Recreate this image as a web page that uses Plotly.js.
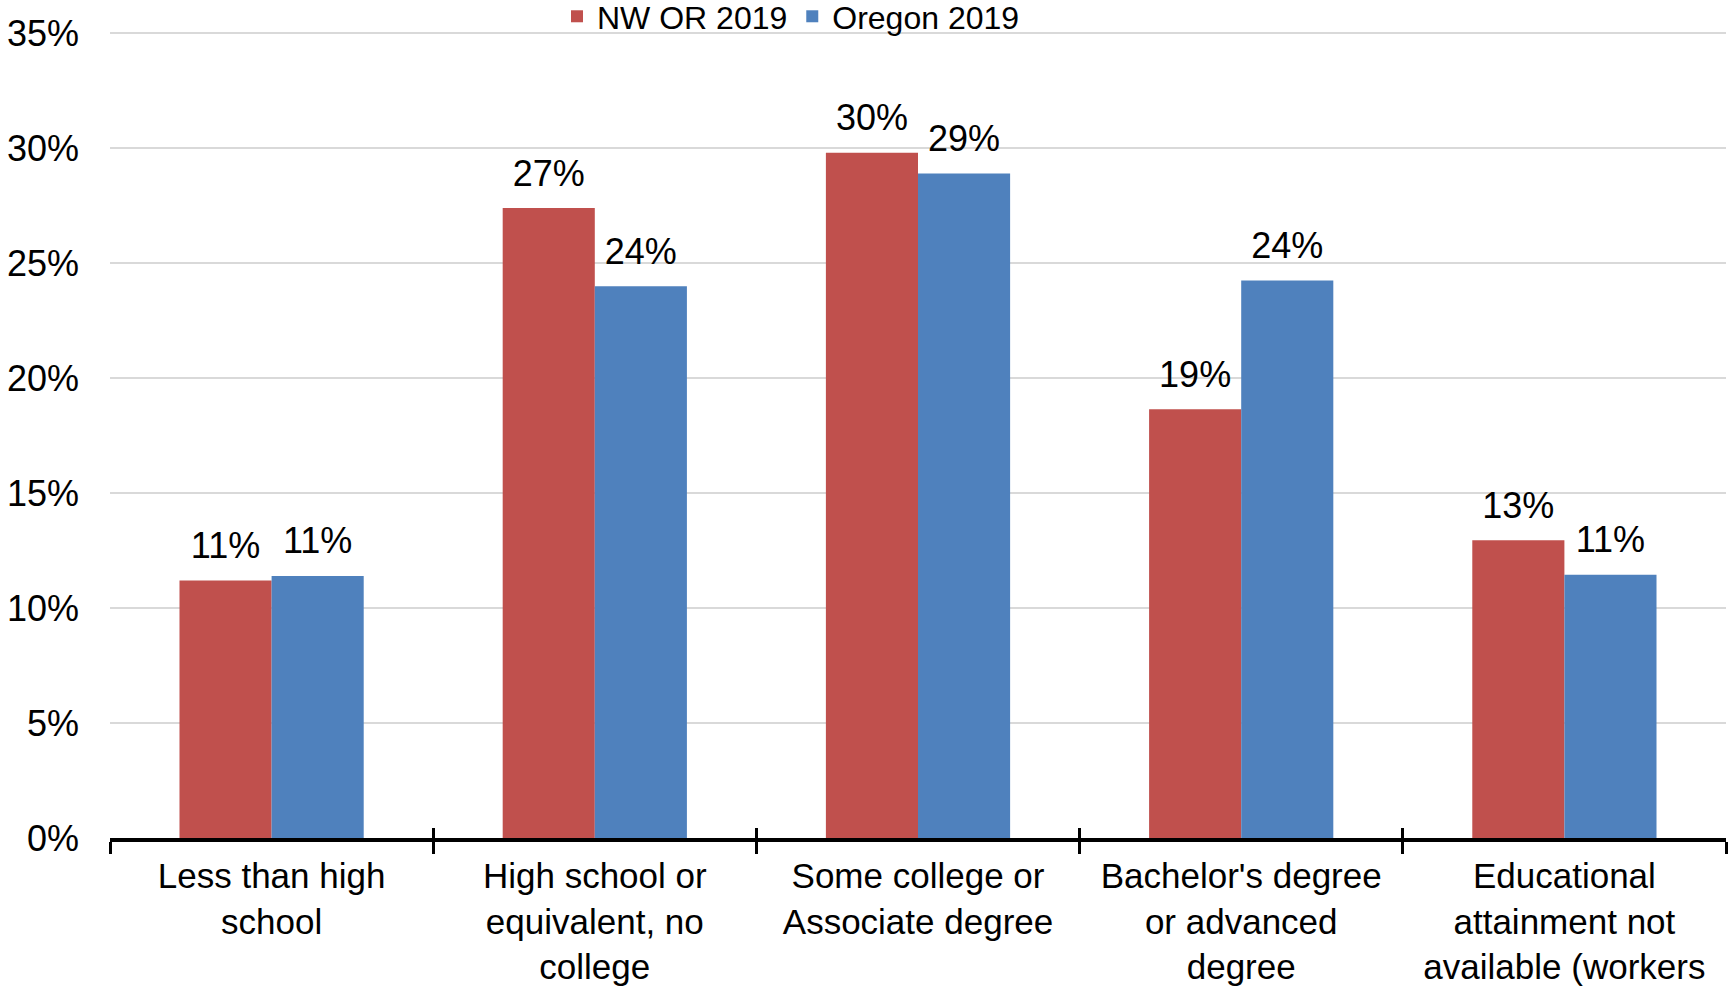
<!DOCTYPE html>
<html>
<head>
<meta charset="utf-8">
<script src="https://cdn.plot.ly/plotly-3.0.1.min.js"></script>
<style>
  html, body { margin: 0; padding: 0; background: #ffffff; }
  #chart { width: 1729px; height: 987px; }
</style>
</head>
<body>
<div id="chart"></div>
<script>
const categories = [
  "Less than high<br>school",
  "High school or<br>equivalent, no<br>college",
  "Some college or<br>Associate degree",
  "Bachelor's degree<br>or advanced<br>degree",
  "Educational<br>attainment not<br>available (workers"
];
const seriesNames = ["NW OR 2019", "Oregon 2019"];
const nwOr2019 = [11.2, 27.4, 29.8, 18.65, 12.95];
const oregon2019 = [11.4, 24.0, 28.9, 24.25, 11.45];
const yTickValues = [0, 5, 10, 15, 20, 25, 30, 35];

const FONT = "Liberation Sans, Arial, Helvetica, sans-serif";
const RED = "#C0504D";
const BLUE = "#4F81BD";

function barTrace(name, values, color) {
  return {
    type: "bar",
    name: name,
    x: categories,
    y: values,
    marker: { color: color, line: { width: 0 } },
    hoverinfo: "x+y"
  };
}

function labelTrace(name, values) {
  return {
    type: "scatter",
    name: name + " labels",
    x: categories,
    y: values,
    mode: "markers+text",
    marker: { size: 20, opacity: 0 },
    text: values.map(v => Math.round(v) + "%"),
    textposition: "top center",
    textfont: { family: FONT, size: 36, color: "#000000" },
    cliponaxis: false,
    showlegend: false,
    hoverinfo: "skip"
  };
}

const traces = [
  barTrace(seriesNames[0], nwOr2019, RED),
  barTrace(seriesNames[1], oregon2019, BLUE),
  labelTrace(seriesNames[0], nwOr2019),
  labelTrace(seriesNames[1], oregon2019)
];

const n = categories.length;
const boundaries = Array.from({ length: n + 1 }, (_, i) => i - 0.5);

const layout = {
  width: 1729,
  height: 987,
  paper_bgcolor: "#ffffff",
  plot_bgcolor: "#ffffff",
  margin: { l: 110, r: 3, t: 31, b: 149, pad: 0, autoexpand: false },
  barmode: "group",
  bargap: 0.43,
  bargroupgap: 0,
  scattermode: "group",
  scattergap: 0.43,
  font: { family: FONT, size: 36, color: "#000000" },
  showlegend: true,
  legend: {
    orientation: "h",
    x: 0.2766,
    xanchor: "left",
    y: 1.018,
    yanchor: "middle",
    font: { family: FONT, size: 32, color: "#000000" },
    bgcolor: "rgba(0,0,0,0)",
    itemclick: false,
    itemdoubleclick: false
  },
  xaxis: {
    type: "category",
    range: [-0.5, n - 0.5],
    tickson: "boundaries",
    ticks: "outside",
    ticklen: 12,
    tickwidth: 3,
    tickcolor: "#000000",
    showline: true,
    linecolor: "#000000",
    linewidth: 4,
    showgrid: false,
    zeroline: false,
    tickfont: { family: FONT, size: 35, color: "#000000" },
    ticklabelstandoff: 4,
    automargin: false,
    fixedrange: true
  },
  xaxis2: {
    overlaying: "x",
    anchor: "y",
    side: "bottom",
    type: "linear",
    range: [-0.5, n - 0.5],
    tickmode: "array",
    tickvals: boundaries,
    ticks: "inside",
    ticklen: 10,
    tickwidth: 3,
    tickcolor: "#000000",
    showticklabels: false,
    showline: false,
    showgrid: false,
    zeroline: false,
    fixedrange: true
  },
  yaxis: {
    range: [0, 35.1],
    tickmode: "array",
    tickvals: yTickValues,
    ticktext: yTickValues.map(v => v + "%"),
    ticks: "",
    showgrid: true,
    gridcolor: "#D9D9D9",
    gridwidth: 2,
    showline: false,
    zeroline: false,
    tickfont: { family: FONT, size: 36, color: "#000000" },
    ticklabelstandoff: 30,
    automargin: false,
    fixedrange: true
  }
};

// invisible helper trace so the overlay tick axis is drawn
traces.push({
  type: "scatter",
  x: [boundaries[0]],
  y: [0],
  xaxis: "x2",
  yaxis: "y",
  mode: "markers",
  marker: { opacity: 0 },
  showlegend: false,
  hoverinfo: "skip"
});

Plotly.newPlot("chart", traces, layout, { staticPlot: true, displayModeBar: false });
</script>
</body>
</html>
